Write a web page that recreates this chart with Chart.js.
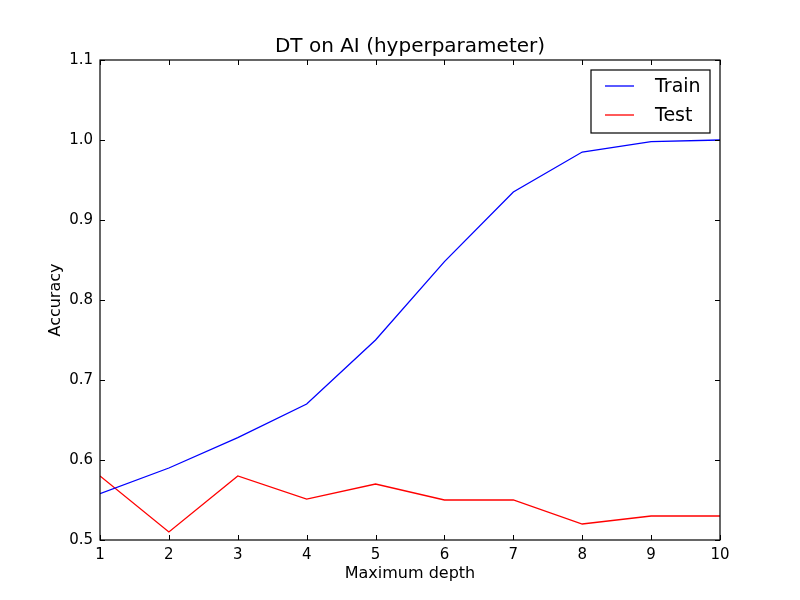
<!DOCTYPE html>
<html>
<head>
  <meta charset="utf-8">
  <title>DT on AI (hyperparameter)</title>
  <script src="https://cdn.jsdelivr.net/npm/chart.js"></script>
  <style>
    body { margin: 0; background: #fff; }
    #chart { display: block; }
  </style>
</head>
<body>
  <canvas id="chart" width="800" height="600"></canvas>

  <script>
    // values
    var depths = [1, 2, 3, 4, 5, 6, 7, 8, 9, 10];
    var trainAcc = [0.558, 0.590, 0.628, 0.670, 0.750, 0.848, 0.935, 0.985, 0.998, 1.000];
    var testAcc = [0.580, 0.510, 0.580, 0.551, 0.570, 0.550, 0.550, 0.520, 0.530, 0.530];
    var xTicks = [1, 2, 3, 4, 5, 6, 7, 8, 9, 10];
    var yTicks = [0.5, 0.6, 0.7, 0.8, 0.9, 1.0, 1.1];
    var chartTitle = 'DT on AI (hyperparameter)';

    Chart.defaults.font.family = "'DejaVu Sans', sans-serif";
    Chart.defaults.color = '#000';

    function toPoints(ys) {
      return depths.map(function (d, i) { return { x: d, y: ys[i] }; });
    }

    // matplotlib-style frame: box around the plot, ticks pointing inward on all sides,
    // title centred over the axes and a boxed legend in the upper right
    var framePlugin = {
      id: 'frame',
      afterDatasetsDraw: function (chart) {
        var ctx = chart.ctx, a = chart.chartArea;
        var xs = chart.scales.x, ys = chart.scales.y;
        var len = 5;
        ctx.save();
        ctx.strokeStyle = '#000';
        ctx.lineWidth = 1;
        ctx.beginPath();
        xs.ticks.forEach(function (t) {
          var px = Math.round(xs.getPixelForValue(t.value)) + 0.5;
          ctx.moveTo(px, a.bottom); ctx.lineTo(px, a.bottom - len);
          ctx.moveTo(px, a.top); ctx.lineTo(px, a.top + len);
        });
        ys.ticks.forEach(function (t) {
          var py = Math.round(ys.getPixelForValue(t.value)) + 0.5;
          ctx.moveTo(a.left, py); ctx.lineTo(a.left + len, py);
          ctx.moveTo(a.right, py); ctx.lineTo(a.right - len, py);
        });
        ctx.stroke();
        ctx.lineWidth = 1.2;
        ctx.strokeRect(a.left, a.top, a.right - a.left, a.bottom - a.top);

        // title
        ctx.fillStyle = '#000';
        ctx.font = "20px 'DejaVu Sans', sans-serif";
        ctx.textAlign = 'center';
        ctx.textBaseline = 'middle';
        ctx.fillText(chartTitle, (a.left + a.right) / 2, a.top - 13);

        // legend box, upper right
        var bw = 119, bh = 63;
        var bx = a.right - 129, by = a.top + 10;
        ctx.fillStyle = '#fff';
        ctx.fillRect(bx, by, bw, bh);
        ctx.lineWidth = 1.2;
        ctx.strokeRect(bx, by, bw, bh);
        ctx.font = "19px 'DejaVu Sans', sans-serif";
        ctx.textBaseline = 'middle';
        ctx.textAlign = 'left';
        chart.data.datasets.forEach(function (ds, i) {
          var ly = by + 16 + i * 29;
          ctx.strokeStyle = ds.borderColor;
          ctx.lineWidth = 1.3;
          ctx.beginPath();
          ctx.moveTo(bx + 14, ly); ctx.lineTo(bx + 43, ly);
          ctx.stroke();
          ctx.fillStyle = '#000';
          ctx.fillText(ds.label, bx + 64, ly + 1);
        });
        ctx.restore();
      }
    };

    var chart = new Chart(document.getElementById('chart').getContext('2d'), {
      type: 'line',
      data: {
        datasets: [
          { label: 'Train', data: toPoints(trainAcc), borderColor: '#0000ff', borderWidth: 1.3, pointRadius: 0, tension: 0, fill: false },
          { label: 'Test', data: toPoints(testAcc), borderColor: '#ff0000', borderWidth: 1.3, pointRadius: 0, tension: 0, fill: false }
        ]
      },
      options: {
        responsive: false,
        animation: false,
        layout: { padding: { left: 0, right: 80, top: 60, bottom: 0 } },
        plugins: {
          legend: { display: false },
          tooltip: { enabled: false },
          title: { display: false }
        },
        scales: {
          x: {
            type: 'linear',
            min: 1, max: 10,
            afterFit: function (s) { s.height = 60; },
            afterBuildTicks: function (s) { s.ticks = xTicks.map(function (v) { return { value: v }; }); },
            grid: { drawOnChartArea: false, drawTicks: false },
            border: { display: false },
            ticks: { font: { size: 15 }, padding: 6, maxRotation: 0, autoSkip: false },
            title: { display: true, text: 'Maximum depth', font: { size: 16 }, padding: { top: 0, bottom: 17 } }
          },
          y: {
            type: 'linear',
            min: 0.5, max: 1.1,
            afterFit: function (s) { s.width = 100; },
            afterBuildTicks: function (s) { s.ticks = yTicks.map(function (v) { return { value: v }; }); },
            grid: { drawOnChartArea: false, drawTicks: false },
            border: { display: false },
            ticks: {
              font: { size: 15 }, padding: 7, autoSkip: false,
              callback: function (v) { return Number(v).toFixed(1); }
            },
            title: { display: true, text: 'Accuracy', font: { size: 16 }, padding: { top: 46, bottom: 0 } }
          }
        }
      },
      plugins: [framePlugin]
    });
  </script>
</body>
</html>
